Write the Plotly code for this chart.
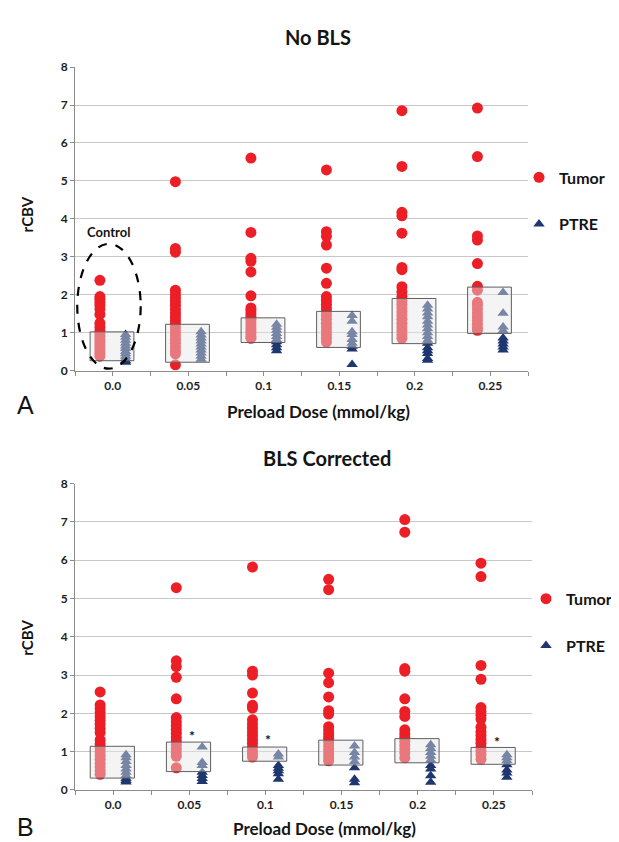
import plotly.graph_objects as go

W, H = 619, 842

dose_labels = ["0.0", "0.05", "0.1", "0.15", "0.2", "0.25"]

# Panel A (No BLS)
tumor_a = [
    [2.38, 1.95, 1.88, 1.80, 1.72, 1.62, 1.48, 1.25, 1.15, 1.05, 0.97, 0.90, 0.82, 0.75, 0.68, 0.60, 0.52, 0.45, 0.38],
    [4.98, 3.22, 3.12, 2.12, 2.02, 1.92, 1.82, 1.72, 1.62, 1.52, 1.42, 1.32, 1.22, 1.12, 1.02, 0.92, 0.82, 0.72, 0.62, 0.52, 0.44, 0.15],
    [5.60, 3.64, 2.96, 2.88, 2.60, 1.97, 1.65, 1.58, 1.50, 1.42, 1.35, 1.28, 1.20, 1.12, 1.05, 0.98, 0.90, 0.85],
    [5.29, 3.66, 3.54, 3.31, 2.70, 2.30, 1.95, 1.85, 1.75, 1.65, 1.55, 1.45, 1.35, 1.25, 1.15, 1.05, 0.95, 0.85, 0.75],
    [6.85, 5.38, 4.17, 4.08, 3.62, 2.72, 2.66, 2.21, 2.08, 1.95, 1.85, 1.75, 1.65, 1.55, 1.45, 1.35, 1.25, 1.15, 1.05, 0.95, 0.85],
    [6.92, 5.64, 3.55, 3.44, 2.82, 2.22, 2.12, 1.80, 1.72, 1.62, 1.52, 1.42, 1.32, 1.22, 1.12, 1.06],
]
ptre_a = [
    [0.95, 0.88, 0.80, 0.72, 0.65, 0.58, 0.50, 0.44, 0.38, 0.32, 0.26, 0.22],
    [1.02, 0.94, 0.86, 0.78, 0.70, 0.62, 0.54, 0.46, 0.38, 0.30],
    [1.22, 1.14, 1.06, 0.98, 0.90, 0.82, 0.76, 0.68, 0.60, 0.52],
    [1.45, 1.30, 1.02, 0.95, 0.82, 0.72, 0.64, 0.57, 0.16],
    [1.72, 1.62, 1.52, 1.42, 1.30, 1.20, 1.10, 1.00, 0.90, 0.80, 0.72, 0.60, 0.52, 0.45, 0.32, 0.27],
    [2.06, 1.51, 1.15, 1.05, 0.86, 0.78, 0.70, 0.62, 0.54],
]
box_low_a = [0.26, 0.22, 0.74, 0.61, 0.71, 0.98]
box_high_a = [1.02, 1.22, 1.39, 1.56, 1.90, 2.20]

# Panel B (BLS Corrected)
tumor_b = [
    [2.56, 2.22, 2.12, 2.02, 1.92, 1.82, 1.72, 1.61, 1.50, 1.31, 1.20, 1.10, 1.00, 0.90, 0.80, 0.70, 0.60, 0.50, 0.41],
    [5.28, 3.37, 3.22, 2.94, 2.38, 1.89, 1.78, 1.68, 1.58, 1.48, 1.38, 1.28, 1.18, 1.08, 0.98, 0.88, 0.58],
    [5.82, 3.10, 3.00, 2.53, 2.21, 2.14, 1.83, 1.72, 1.62, 1.52, 1.42, 1.32, 1.22, 1.12, 1.02, 0.94, 0.86],
    [5.50, 5.23, 3.05, 2.80, 2.43, 2.07, 1.98, 1.65, 1.55, 1.45, 1.35, 1.25, 1.15, 1.05, 0.95, 0.85, 0.76],
    [7.06, 6.73, 3.17, 3.10, 2.38, 2.05, 1.92, 1.57, 1.47, 1.37, 1.27, 1.17, 1.07, 0.97, 0.84],
    [5.92, 5.57, 3.25, 2.89, 2.15, 2.05, 1.95, 1.85, 1.64, 1.52, 1.42, 1.32, 1.22, 1.12, 1.02, 0.92, 0.80],
]
ptre_b = [
    [0.92, 0.84, 0.74, 0.64, 0.55, 0.46, 0.38, 0.30, 0.25, 0.21],
    [1.12, 0.72, 0.64, 0.46, 0.38, 0.30, 0.22],
    [0.94, 0.86, 0.64, 0.57, 0.50, 0.42, 0.28],
    [1.15, 0.98, 0.86, 0.74, 0.58, 0.28, 0.19],
    [1.18, 1.08, 0.98, 0.88, 0.78, 0.64, 0.55, 0.37, 0.20],
    [0.92, 0.84, 0.76, 0.66, 0.52, 0.44, 0.33],
]
box_low_b = [0.31, 0.48, 0.75, 0.65, 0.71, 0.67]
box_high_b = [1.14, 1.25, 1.12, 1.30, 1.34, 1.11]
star_cats_b = [1, 2, 5]
star_vals_b = [1.42, 1.31, 1.27]

RED = "rgb(236,30,38)"
NAVY = "rgb(30,55,112)"
FONT = "Lato"

T_OFF, P_OFF = -0.17, 0.17
BOX_L, BOX_R = -0.30, 0.28

fig = go.Figure()


def add_panel(tumor, ptre, xa, ya, leg):
    tx, ty, px_, py_ = [], [], [], []
    for i, vals in enumerate(tumor):
        tx += [i + T_OFF] * len(vals)
        ty += vals
    for i, vals in enumerate(ptre):
        px_ += [i + P_OFF] * len(vals)
        py_ += vals
    fig.add_trace(go.Scatter(x=tx, y=ty, mode="markers", name="Tumor",
                             marker=dict(symbol="circle", size=11, color=RED),
                             xaxis=xa, yaxis=ya, legend=leg, legendgroup="t"))
    fig.add_trace(go.Scatter(x=px_, y=py_, mode="markers", name="PTRE",
                             marker=dict(symbol="triangle-up", size=10, color=NAVY),
                             xaxis=xa, yaxis=ya, legend=leg, legendgroup="p"))


add_panel(tumor_a, ptre_a, "x", "y", "legend")
add_panel(tumor_b, ptre_b, "x2", "y2", "legend2")

shapes = []
for i in range(6):
    shapes.append(dict(type="rect", xref="x", yref="y", x0=i + BOX_L, x1=i + BOX_R,
                       y0=box_low_a[i], y1=box_high_a[i], layer="above",
                       fillcolor="rgba(230,230,230,0.45)", line=dict(color="rgb(95,95,95)", width=1)))
    shapes.append(dict(type="rect", xref="x2", yref="y2", x0=i + BOX_L, x1=i + BOX_R,
                       y0=box_low_b[i], y1=box_high_b[i], layer="above",
                       fillcolor="rgba(230,230,230,0.45)", line=dict(color="rgb(95,95,95)", width=1)))
# Control ellipse
shapes.append(dict(type="circle", xref="x", yref="y", x0=-0.47, x1=0.37, y0=0.05, y1=3.34,
                   layer="above", line=dict(color="black", width=2.2, dash="dash")))


def px(xp):
    return xp / W


def py(yp):
    return 1 - yp / H


def axis_common():
    return dict(showline=True, linecolor="rgb(140,140,140)", linewidth=1,
                tickfont=dict(family=FONT, size=12, color="rgb(30,30,30)", weight="bold"))


xa_common = dict(range=[-0.5, 5.5], tickvals=list(range(6)), ticktext=dose_labels,
                 ticks="outside", ticklen=4, tickcolor="rgb(140,140,140)",
                 minor=dict(tick0=-0.5, dtick=1, ticks="outside", ticklen=4, tickcolor="rgb(140,140,140)"),
                 showgrid=False, zeroline=False, fixedrange=True, **axis_common())
ya_common = dict(range=[0, 8], dtick=1, ticks="outside", ticklen=4, tickcolor="rgb(140,140,140)",
                 showgrid=True, gridcolor="rgb(200,200,200)", gridwidth=1, zeroline=False,
                 **axis_common())

legend_font = dict(family=FONT, size=16, color="rgb(20,20,20)", weight="bold")

fig.update_layout(
    width=W, height=H, margin=dict(l=0, r=0, t=0, b=0),
    paper_bgcolor="white", plot_bgcolor="white",
    xaxis=dict(domain=[px(67), px(520)], anchor="y", **xa_common),
    yaxis=dict(domain=[py(361), py(52)], anchor="x", **ya_common),
    xaxis2=dict(domain=[px(67), px(524)], anchor="y2", **xa_common),
    yaxis2=dict(domain=[py(788), py(476)], anchor="x2", **ya_common),
    shapes=shapes,
    legend=dict(x=px(511), y=py(147), xanchor="left", yanchor="top", itemwidth=30,
                tracegroupgap=23, font=legend_font, bgcolor="rgba(0,0,0,0)"),
    legend2=dict(x=px(518), y=py(576), xanchor="left", yanchor="top", itemwidth=30,
                 tracegroupgap=23, font=legend_font, bgcolor="rgba(0,0,0,0)"),
)

ann = []


def text(s, x, y, size, bold=True, angle=0, family=FONT, color="rgb(20,20,20)"):
    ann.append(dict(text=("<b>%s</b>" % s) if bold else s, x=px(x), y=py(y), xref="paper", yref="paper",
                    showarrow=False, xanchor="center", yanchor="middle", textangle=angle,
                    font=dict(family=family, size=size, color=color)))


text("No BLS", 310, 21, 20)
text("BLS Corrected", 319, 450, 20)
text("rCBV", 19, 202, 15, angle=-90)
text("rCBV", 19, 633, 15, angle=-90)
text("Preload Dose (mmol/kg)", 310, 403, 17)
text("Preload Dose (mmol/kg)", 316, 827, 17)
text("A", 17, 396, 25, bold=False, family="Liberation Sans")
text("B", 17, 826, 25, bold=False, family="Liberation Sans")
ann.append(dict(text="Control", x=-0.05, y=3.65, xref="x", yref="y", showarrow=False,
                font=dict(family=FONT, size=13, color="rgb(20,20,20)", weight="bold")))
for c, v in zip(star_cats_b, star_vals_b):
    ann.append(dict(text="<b>*</b>", x=c + 0.04, y=v, xref="x2", yref="y2", showarrow=False,
                    font=dict(family=FONT, size=14, color="rgb(20,20,20)")))

fig.update_layout(annotations=ann)
fig.write_html("out.html")
